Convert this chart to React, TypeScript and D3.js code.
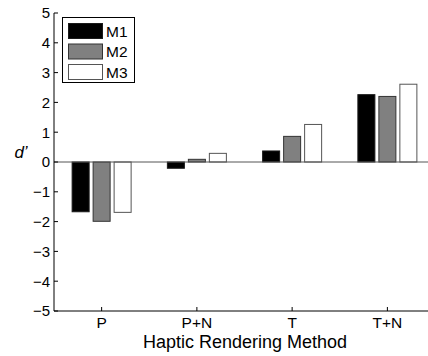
import React, { useEffect, useRef } from 'react'
import * as d3 from 'd3'

const categories = ['P', 'P+N', 'T', 'T+N']
const seriesNames = ['M1', 'M2', 'M3']
const m1Values = [-1.67, -0.21, 0.37, 2.26]
const m2Values = [-1.99, 0.09, 0.86, 2.2]
const m3Values = [-1.69, 0.29, 1.26, 2.61]
const yTicks = [-5, -4, -3, -2, -1, 0, 1, 2, 3, 4, 5]

const fills = ['#000000', '#808080', '#ffffff']
const strokes = ['#1a1a1a', '#333333', '#555555']

export default function App() {
    const svgRef = useRef<SVGSVGElement>(null)
    const width = 428
    const height = 356

    useEffect(() => {
        document.body.style.margin = '0'
        if (!svgRef.current) return
        const svg = d3.select(svgRef.current)
        svg.selectAll('*').remove()

        const font = 'Liberation Sans, Arial, Helvetica, sans-serif'
        const left = 54, right = 435, top = 13, bottom = 311

        const x = d3.scaleBand().domain(categories).range([left, right]).padding(0)
        const inner = d3.scaleBand().domain(seriesNames).range([-29.5, 29.5]).paddingInner(0.19)
        const y = d3.scaleLinear().domain([-5, 5]).range([bottom, top])

        const rows = categories.map((c, i) => ({
            cat: c,
            vals: [m1Values[i], m2Values[i], m3Values[i]],
        }))

        // bars
        const g = svg.append('g')
        rows.forEach(r => {
            const cx = (x(r.cat) || 0) + x.bandwidth() / 2
            r.vals.forEach((v, k) => {
                const s = seriesNames[k]
                g.append('rect')
                    .attr('x', cx + (inner(s) || 0))
                    .attr('width', inner.bandwidth())
                    .attr('y', y(Math.max(0, v)))
                    .attr('height', Math.abs(y(v) - y(0)))
                    .attr('fill', fills[k])
                    .attr('stroke', strokes[k])
                    .attr('stroke-width', 1)
            })
        })

        // zero baseline
        svg.append('line')
            .attr('x1', left).attr('x2', right)
            .attr('y1', y(0)).attr('y2', y(0))
            .attr('stroke', '#555').attr('stroke-width', 1)

        // y axis
        const ya = svg.append('g').attr('transform', `translate(${left},0)`)
        ya.append('line').attr('y1', top).attr('y2', bottom).attr('stroke', '#000')
        yTicks.forEach(t => {
            ya.append('line').attr('x1', 0).attr('x2', 4)
                .attr('y1', y(t)).attr('y2', y(t)).attr('stroke', '#000')
            ya.append('text')
                .attr('x', -4).attr('y', y(t))
                .attr('dy', '0.36em')
                .attr('text-anchor', 'end')
                .attr('font-family', font).attr('font-size', 15)
                .text(t < 0 ? '\u2212' + Math.abs(t) : String(t))
        })

        // x axis
        const xa = svg.append('g')
        xa.append('line').attr('x1', left).attr('x2', right)
            .attr('y1', bottom).attr('y2', bottom).attr('stroke', '#000')
        categories.forEach(c => {
            const cx = (x(c) || 0) + x.bandwidth() / 2
            xa.append('line').attr('x1', cx).attr('x2', cx)
                .attr('y1', bottom).attr('y2', bottom - 4).attr('stroke', '#000')
            xa.append('text')
                .attr('x', cx).attr('y', 328)
                .attr('text-anchor', 'middle')
                .attr('font-family', font).attr('font-size', 15.5)
                .text(c)
        })

        svg.append('text')
            .attr('x', 245).attr('y', 348)
            .attr('text-anchor', 'middle')
            .attr('font-family', font).attr('font-size', 18)
            .text('Haptic Rendering Method')

        svg.append('text')
            .attr('x', 21).attr('y', 158)
            .attr('text-anchor', 'middle')
            .attr('font-family', font).attr('font-size', 17).attr('font-style', 'italic')
            .text('d\u2019')

        // legend
        const lg = svg.append('g')
        lg.append('rect').attr('x', 62.5).attr('y', 17.5).attr('width', 72).attr('height', 65)
            .attr('fill', '#fff').attr('stroke', '#000')
        seriesNames.forEach((s, k) => {
            const cy = 31 + k * 20.5
            lg.append('rect').attr('x', 68.5).attr('y', cy - 7.5).attr('width', 34).attr('height', 15)
                .attr('fill', fills[k]).attr('stroke', strokes[k])
            lg.append('text').attr('x', 106).attr('y', cy).attr('dy', '0.36em')
                .attr('font-family', font).attr('font-size', 15.5)
                .text(s)
        })
    }, [])

    return <svg ref={svgRef} width={width} height={height} style={{ display: 'block', background: '#fff' }} />
}
